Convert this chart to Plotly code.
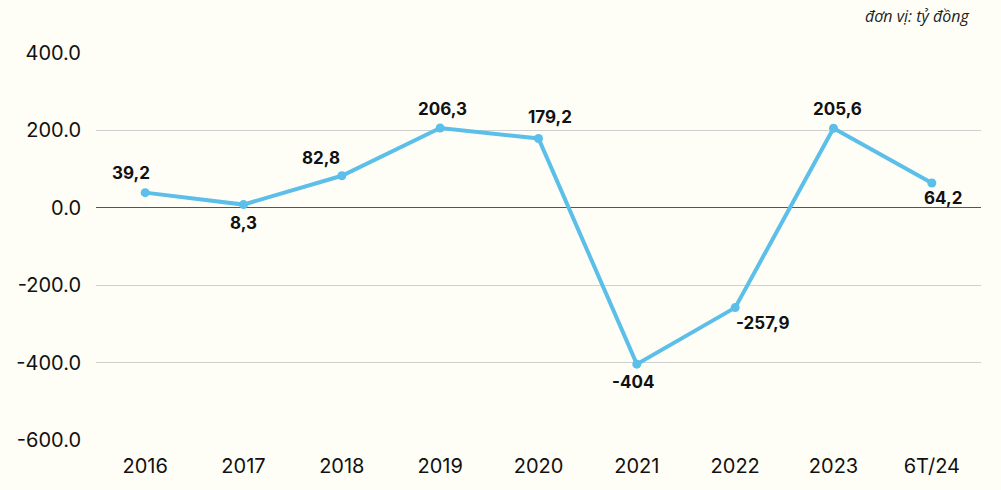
import plotly.graph_objects as go

categories = ["2016", "2017", "2018", "2019", "2020", "2021", "2022", "2023", "6T/24"]
values = [39.2, 8.3, 82.8, 206.3, 179.2, -404, -257.9, 205.6, 64.2]
labels = ["39,2", "8,3", "82,8", "206,3", "179,2", "-404", "-257,9", "205,6", "64,2"]
tick_vals = [400, 200, 0, -200, -400, -600]
tick_text = ["400.0", "200.0", "0.0", "-200.0", "-400.0", "-600.0"]

# label offsets in pixels (styling, not data)
label_dx = [-14, 0, -21, 2, 11, -4, 27, 4, 11]
label_dy = [20, -18, 18, 19, 21, -18, -15, 19, -15]

FONT = "Inter, Lato, sans-serif"

fig = go.Figure()
fig.add_trace(go.Scatter(
    x=categories, y=values, mode="lines+markers",
    line=dict(color="#5BBFEA", width=4),
    marker=dict(color="#5BBFEA", size=9),
    cliponaxis=False, hoverinfo="skip", showlegend=False,
))

annotations = []
for i, (v, t, dx, dy) in enumerate(zip(values, labels, label_dx, label_dy)):
    annotations.append(dict(x=i, y=v, xref="x", yref="y", text=t, showarrow=False,
                            xshift=dx, yshift=dy, xanchor="center", yanchor="middle",
                            font=dict(family=FONT, size=17, color="#111111", weight="bold")))
annotations.append(dict(text="<i>đơn vị: tỷ đồng</i>", xref="paper", yref="paper",
                        x=1.0, y=1.0, xshift=-9, yshift=50, xanchor="right", yanchor="top",
                        showarrow=False,
                        font=dict(family="Open Sans, sans-serif", size=16, color="#222222")))

fig.update_layout(
    width=1001, height=490,
    margin=dict(l=96, r=20, t=53, b=50),
    paper_bgcolor="#FFFEF6", plot_bgcolor="#FFFEF6",
    font=dict(family=FONT, color="#111111"),
    xaxis=dict(type="category", range=[-0.5, 8.5], showgrid=False, showline=False,
               zeroline=False, ticks="", tickfont=dict(size=20), ticklabelstandoff=12),
    yaxis=dict(range=[-600, 400], tickvals=tick_vals, ticktext=tick_text,
               showgrid=True, gridcolor="#CFCFCF", gridwidth=1.2,
               zeroline=True, zerolinecolor="#555555", zerolinewidth=1.2,
               showline=False, ticks="", tickfont=dict(size=20), ticklabelstandoff=14),
    annotations=annotations,
)

fig.write_html("out.html", config={"displayModeBar": False},
               post_script="document.body.style.margin='0';document.body.style.background='#FFFEF6';")
